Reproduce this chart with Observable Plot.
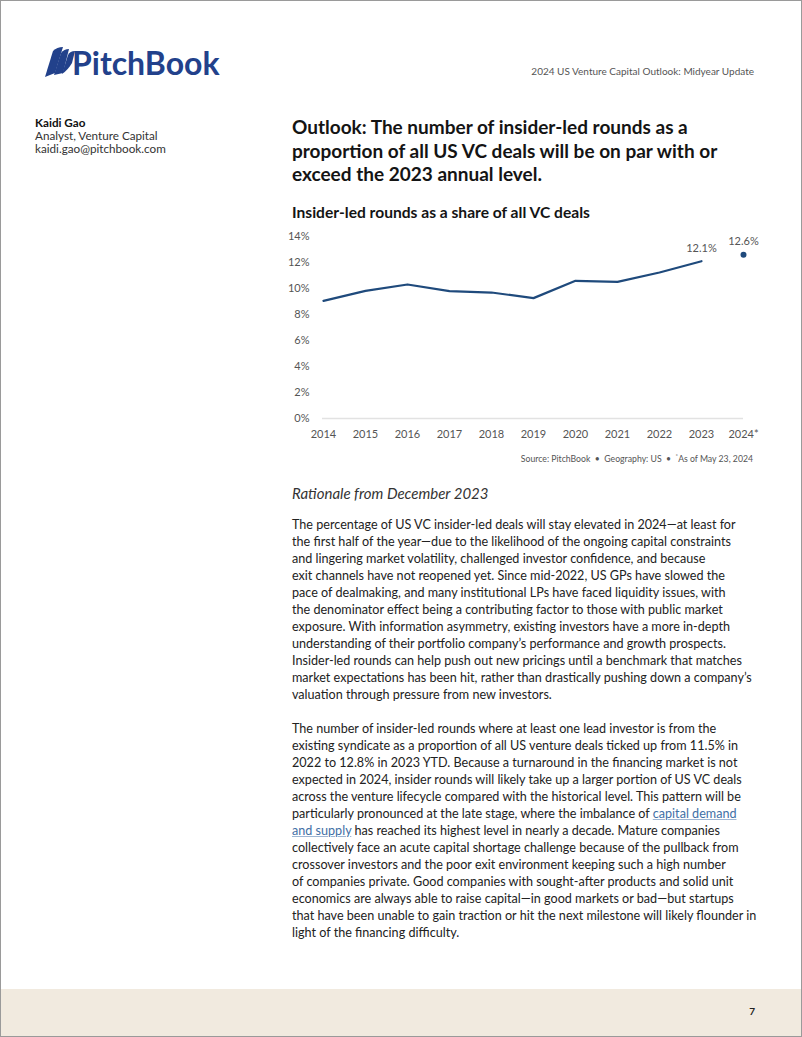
<!DOCTYPE html>
<html>
<head>
<meta charset="utf-8">
<script src="https://cdn.jsdelivr.net/npm/d3@7"></script>
<script src="https://cdn.jsdelivr.net/npm/@observablehq/plot@0.6"></script>
<style>
  html, body { margin: 0; padding: 0; background: #fff; }
  body { font-family: Lato, "Noto Sans", sans-serif; color: #1e1e1e; }
  #page { position: relative; width: 802px; height: 1037px; box-sizing: border-box; border: 1px solid #9a9a9a; overflow: hidden; }
  .abs { position: absolute; }
  .line { white-space: nowrap; }
  #footer { left: 0; right: 0; top: 988px; bottom: 0; background: #f1eadf; }
  #pagenum { right: 46px; top: 1004px; font-size: 10px; font-weight: 700; color: #222; }
  #hdr { right: 47px; top: 64px; font-size: 10px; color: #555; }
  #author { left: 34px; top: 115px; font-size: 11.7px; line-height: 13px; color: #333; white-space: nowrap; }
  #author b { color: #111; }
  #headline { left: 291px; top: 114px; font-size: 19px; line-height: 23.5px; font-weight: 700; color: #141414; }
  #ctitle { left: 291px; top: 201px; font-size: 15.6px; line-height: 20px; font-weight: 700; color: #141414; white-space: nowrap; }
  #chart { left: 280px; top: 225px; }
  #source { right: 48px; top: 451px; font-size: 8.7px; color: #555; white-space: nowrap; }
  #rationale { left: 291px; top: 482px; font-size: 15px; line-height: 20px; font-style: italic; color: #333; white-space: nowrap; }
  .para { left: 291px; font-size: 12.6px; line-height: 17px; color: #222; }
  a { color: #3f6fa6; text-decoration: underline; text-decoration-color: #9fb6d3; }
</style>
</head>
<body>
<div id="page">
  <svg class="abs" style="left:40px;top:42px" width="190" height="38" viewBox="0 0 190 38">
    <g fill="#22418b">
      <path d="M4 34 L12 8 Q16 4 22 4 L14 30 Z"/>
      <path d="M13 32 L20 10 Q23 6 28 6 L22 30 Z"/>
      <path d="M21 31 L27 12 Q29 8 34 8 L31 20 Q27 27 21 31 Z"/>
      <text x="31" y="32" font-family="Lato, 'Noto Sans', sans-serif" font-size="32" font-weight="700" fill="#22418b">PitchBook</text>
    </g>
  </svg>
  <div id="hdr" class="abs">2024 US Venture Capital Outlook: Midyear Update</div>
  <div id="author" class="abs"><b>Kaidi Gao</b><br>Analyst, Venture Capital<br>kaidi.gao@pitchbook.com</div>
  <div id="headline" class="abs">
    <div class="line">Outlook: The number of insider-led rounds as a</div>
    <div class="line">proportion of all US VC deals will be on par with or</div>
    <div class="line">exceed the 2023 annual level.</div>
  </div>
  <div id="ctitle" class="abs">Insider-led rounds as a share of all VC deals</div>
  <div id="chart" class="abs"></div>
  <div id="source" class="abs">Source: PitchBook &nbsp;•&nbsp; Geography: US &nbsp;•&nbsp; <sup style="font-size:6px">*</sup>As of May 23, 2024</div>
  <div id="rationale" class="abs">Rationale from December 2023</div>
  <div class="abs para" style="top:514.5px">
    <div class="line">The percentage of US VC insider-led deals will stay elevated in 2024—at least for</div>
    <div class="line">the first half of the year—due to the likelihood of the ongoing capital constraints</div>
    <div class="line">and lingering market volatility, challenged investor confidence, and because</div>
    <div class="line">exit channels have not reopened yet. Since mid-2022, US GPs have slowed the</div>
    <div class="line">pace of dealmaking, and many institutional LPs have faced liquidity issues, with</div>
    <div class="line">the denominator effect being a contributing factor to those with public market</div>
    <div class="line">exposure. With information asymmetry, existing investors have a more in-depth</div>
    <div class="line">understanding of their portfolio company’s performance and growth prospects.</div>
    <div class="line">Insider-led rounds can help push out new pricings until a benchmark that matches</div>
    <div class="line">market expectations has been hit, rather than drastically pushing down a company’s</div>
    <div class="line">valuation through pressure from new investors.</div>
  </div>
  <div class="abs para" style="top:718.5px">
    <div class="line">The number of insider-led rounds where at least one lead investor is from the</div>
    <div class="line">existing syndicate as a proportion of all US venture deals ticked up from 11.5% in</div>
    <div class="line">2022 to 12.8% in 2023 YTD. Because a turnaround in the financing market is not</div>
    <div class="line">expected in 2024, insider rounds will likely take up a larger portion of US VC deals</div>
    <div class="line">across the venture lifecycle compared with the historical level. This pattern will be</div>
    <div class="line">particularly pronounced at the late stage, where the imbalance of <a>capital demand </a></div>
    <div class="line"><a>and supply</a> has reached its highest level in nearly a decade. Mature companies</div>
    <div class="line">collectively face an acute capital shortage challenge because of the pullback from</div>
    <div class="line">crossover investors and the poor exit environment keeping such a high number</div>
    <div class="line">of companies private. Good companies with sought-after products and solid unit</div>
    <div class="line">economics are always able to raise capital—in good markets or bad—but startups</div>
    <div class="line">that have been unable to gain traction or hit the next milestone will likely flounder in</div>
    <div class="line">light of the financing difficulty.</div>
  </div>
  <div id="footer" class="abs"></div>
  <div id="pagenum" class="abs">7</div>
</div>
<script>
// Data
const years = ["2014", "2015", "2016", "2017", "2018", "2019", "2020", "2021", "2022", "2023", "2024*"];
const lineYears = ["2014", "2015", "2016", "2017", "2018", "2019", "2020", "2021", "2022", "2023"];
const lineShares = [9.05, 9.82, 10.31, 9.8, 9.69, 9.26, 10.59, 10.51, 11.23, 12.1];
const dotYears = ["2024*"];
const dotShares = [12.6];
const labelYears = ["2023", "2024*"];
const labelShares = [12.1, 12.6];
const labelTexts = ["12.1%", "12.6%"];
const yTicks = [0, 2, 4, 6, 8, 10, 12, 14];

const lineData = lineYears.map((y, i) => ({year: y, share: lineShares[i]}));
const dotData = dotYears.map((y, i) => ({year: y, share: dotShares[i]}));
const labelData = labelYears.map((y, i) => ({year: y, share: labelShares[i], text: labelTexts[i]}));

const navy = "#1f4a7c";
const chart = Plot.plot({
  width: 480,
  height: 225,
  marginLeft: 41,
  marginRight: 18,
  marginTop: 10,
  marginBottom: 33,
  style: {fontFamily: "Lato, 'Noto Sans', sans-serif", fontSize: "11px", color: "#555", background: "transparent"},
  x: {type: "point", domain: years, padding: 0, label: null},
  y: {domain: [0, 14], label: null},
  marks: [
    Plot.ruleY([0], {stroke: "#e2e2e2", strokeWidth: 1.5}),
    Plot.line(lineData, {x: "year", y: "share", stroke: navy, strokeWidth: 2.2}),
    Plot.dot(dotData, {x: "year", y: "share", r: 3, fill: navy, stroke: "none"}),
    Plot.text(labelData, {x: "year", y: "share", text: "text", dy: -13, fill: "#555", fontSize: 11}),
    Plot.axisX({tickSize: 0, tickPadding: 12, fontSize: 11, label: null}),
    Plot.axisY({ticks: yTicks, tickSize: 0, tickPadding: 13, tickFormat: d => d + "%", fontSize: 11, label: null})
  ]
});
document.getElementById("chart").appendChild(chart);
</script>
</body>
</html>
